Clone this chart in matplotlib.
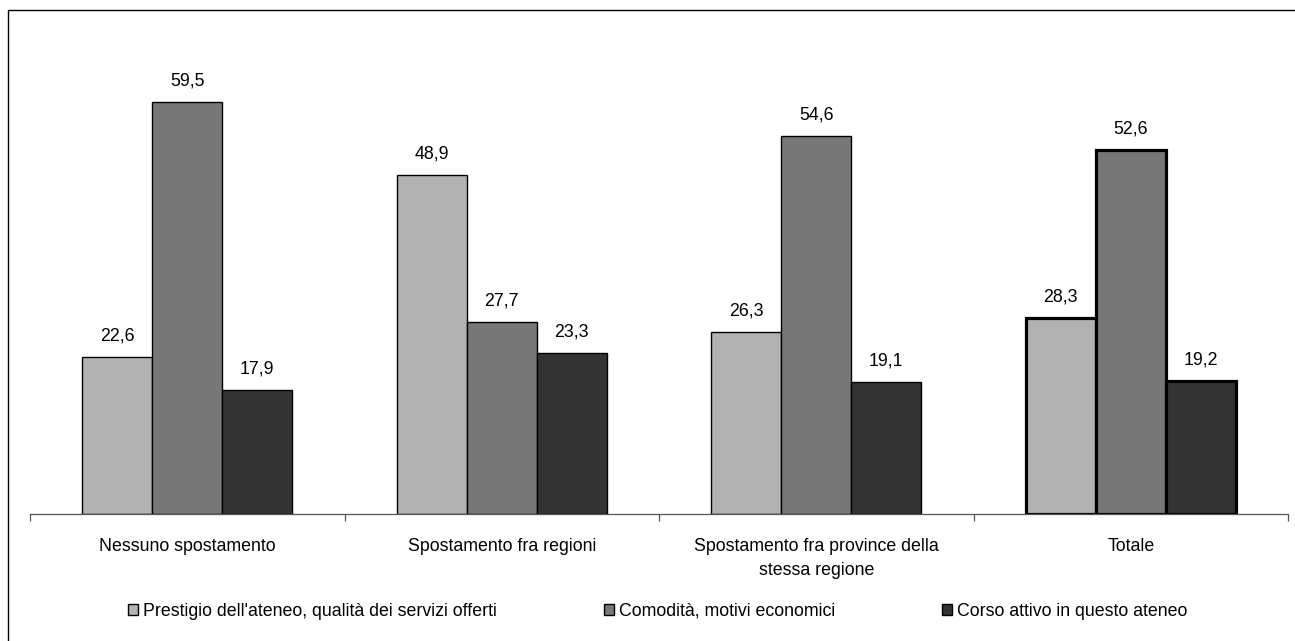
import matplotlib.pyplot as plt
import numpy as np
from matplotlib.patches import Rectangle

plt.rcParams['font.family'] = ['Liberation Sans', 'DejaVu Sans']

categories = ["Nessuno spostamento", "Spostamento fra regioni",
              "Spostamento fra province della\nstessa regione", "Totale"]
series_names = ["Prestigio dell'ateneo, qualità dei servizi offerti",
                "Comodità, motivi economici",
                "Corso attivo in questo ateneo"]
prestigio = [22.6, 48.9, 26.3, 28.3]
comodita = [59.5, 27.7, 54.6, 52.6]
corso = [17.9, 23.3, 19.1, 19.2]
colors = ["#b2b2b2", "#777777", "#333333"]

W, H = 1295, 641
fs = 12.8
fig = plt.figure(figsize=(W / 100, H / 100), dpi=100)

# outer chart frame
fig.patches.append(Rectangle((8 / W, -0.05), 1.2, (H - 10) / H + 0.05, transform=fig.transFigure,
                             fill=False, edgecolor="black", linewidth=1.0))

ax = fig.add_axes([30 / W, (H - 514) / H, (1288 - 30) / W, (514 - 29) / H])

x = np.arange(len(categories))
bw = 70 / 314.5
for i, (vals, name, col) in enumerate(zip([prestigio, comodita, corso], series_names, colors)):
    pos = x + (i - 1) * bw
    bars = ax.bar(pos, vals, width=bw, color=col, edgecolor="black", linewidth=1.0, label=name)
    # the total group is outlined heavier
    bars[-1].set_linewidth(2.3)
    for p, v in zip(pos, vals):
        ax.annotate(f"{v:.1f}".replace(".", ","), (p, v), xytext=(0, 9), textcoords="offset points",
                    ha="center", va="bottom", fontsize=fs)

ax.set_xlim(-0.5, len(categories) - 0.5)
ax.set_ylim(0, 70)
for s in ["top", "right", "left"]:
    ax.spines[s].set_visible(False)
ax.spines["bottom"].set_color("#555555")
ax.spines["bottom"].set_linewidth(0.9)
ax.set_yticks([])
ax.set_xticks(np.arange(len(categories) + 1) - 0.5)
ax.set_xticklabels([])
ax.set_xticks(x, minor=True)
ax.set_xticklabels(categories, minor=True, fontsize=fs, linespacing=1.55)
ax.tick_params(axis="x", which="major", length=5, width=0.9, color="#555555")
ax.tick_params(axis="x", which="minor", length=0, pad=17.5)

fig.legend(loc="center", bbox_to_anchor=(0.508, (H - 611) / H), ncol=3, frameon=False, fontsize=fs,
           handlelength=0.55, handleheight=0.55, handletextpad=0.3, columnspacing=6.0)

fig.savefig("out.png", dpi=100)
